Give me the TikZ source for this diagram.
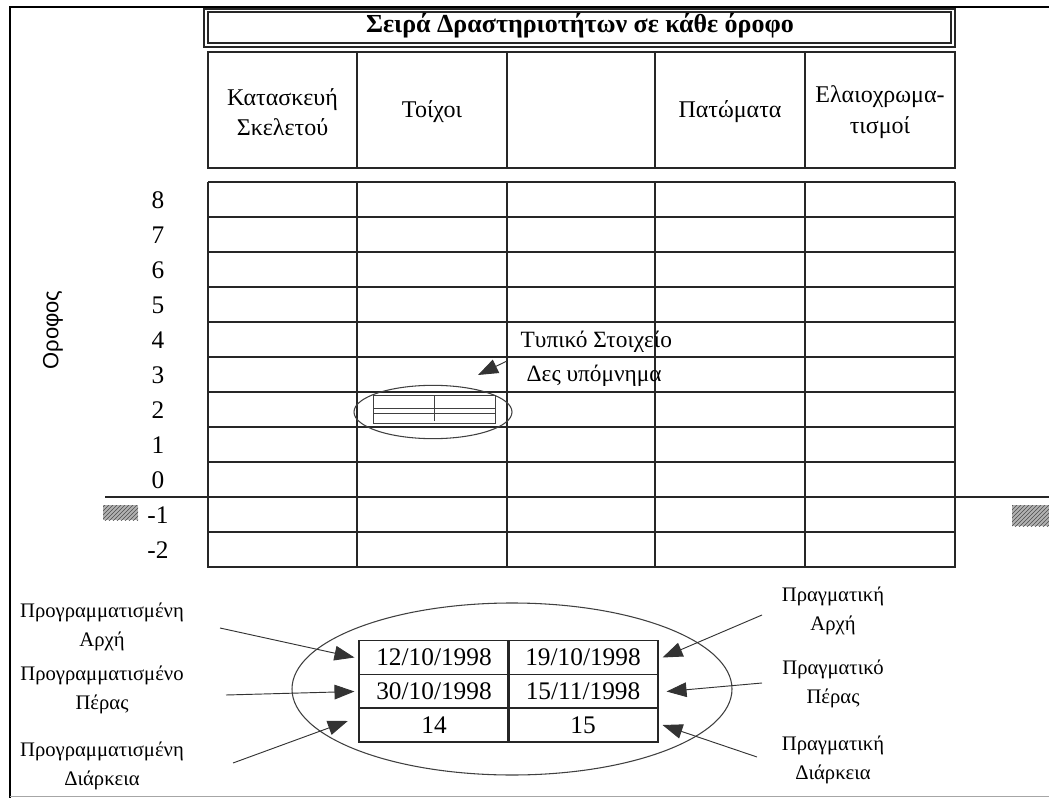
\documentclass[tikz,border=0pt]{standalone}
\usepackage{fontspec}
\setmainfont{Liberation Serif}
\newfontfamily\lsans{Liberation Sans}
\usetikzlibrary{arrows.meta,patterns,shapes.geometric}
\tikzset{
  thin line/.style={line width=0.8pt, black!85},
  thick line/.style={line width=2.2pt, black!85},
  ell/.style={draw=black!75, line width=0.8pt, ellipse, inner sep=0pt},
  big arrow/.style={line width=0.7pt, black!80, -{Triangle[length=15pt,width=11pt]}},
  cell/.style={draw=black!85, line width=0.8pt, minimum width=112.5pt, minimum height=25.5pt, inner sep=0pt, font=\fontsize{19}{21}\selectfont},
  hdr/.style={align=center, font=\fontsize{18}{23}\selectfont},
  num/.style={font=\fontsize{19}{21}\selectfont},
  lbl/.style={align=center, font=\fontsize{15.5}{22}\selectfont},
  hatch/.style={pattern=north east lines, pattern color=black!70}
}
\begin{document}
\begin{tikzpicture}[x=0.75pt,y=-0.75pt]
\useasboundingbox (0,0) rectangle (1049,798);
% outer frame
\draw[line width=1.2pt] (10,798) -- (10,7) -- (1049,7);
\draw[black!35, line width=0.6pt] (10,796) -- (1049,796);
% title box (double)
\draw[thin line] (204,9) rectangle (955,47);
\draw[thin line] (208,12) rectangle (951,43);
\node[font=\bfseries\fontsize{19.5}{22}\selectfont] (title) at (580,26) {Σειρά Δραστηριοτήτων σε κάθε όροφο};
% header cells
\foreach \a/\b in {208/357,357/507,507/655,655/805,805/955}
  \draw[thin line] (\a,52) rectangle (\b,168);
\node[hdr] (h1) at (282.5,112) {Κατασκευή\\Σκελετού};
\node[hdr] (h2) at (432,112) {Τοίχοι};
\node[hdr] (h4) at (730,112) {Πατώματα};
\node[hdr] (h5) at (880,112) {Ελαιοχρωμα-\\τισμοί};
% grid
\foreach \k in {0,...,11}
  \draw[thin line] (208,182+35*\k) -- (955,182+35*\k);
\foreach \x in {208,357,507,655,805,955}
  \draw[thin line] (\x,182) -- (\x,567);
% ground and basement
\draw[thick line] (105,497) -- (208,497) -- (208,567) -- (955,567) -- (955,497) -- (1049,497);
\fill[black!30] (103,505) rectangle (138,520);
\fill[hatch] (103,505) rectangle (138,520);
\fill[black!30] (1012,505) rectangle (1049,526);
\fill[hatch] (1012,505) rectangle (1049,526);
% floor numbers
\foreach \n [count=\i from 0] in {8,7,6,5,4,3,2,1,0,-1,-2}
  \node[num] (f\i) at (158,200+35*\i) {\n};
\node[rotate=90, font=\lsans\fontsize{16.5}{18}\selectfont] (oro) at (53,330) {Οροφος};
% typical element
\node[ell, minimum width=118.5pt, minimum height=40pt] (elem) at (433,412) {};
\draw[black!75, line width=0.7pt] (373,395) rectangle (495,423);
\draw[black!75, line width=0.7pt] (373,408) -- (495,408) (373,413) -- (495,413) (434,395) -- (434,421);
\coordinate (elemtail) at (507,361);
\coordinate (elemtip) at (478,375);
\draw[big arrow] (elemtail) -- (elemtip);
\node[anchor=west, font=\fontsize{17.5}{20}\selectfont] (t1) at (516,342) {Τυπικό Στοιχείο};
\node[anchor=west, font=\fontsize{17.5}{20}\selectfont] (t2) at (522,376) {Δες υπόμνημα};
% legend
\node[ell, minimum width=330pt, minimum height=129pt] (lell) at (512,689) {};
\node[cell] (c11) at (434,657.5) {12/10/1998};
\node[cell] (c12) at (583,657.5) {19/10/1998};
\node[cell] (c21) at (434,691.5) {30/10/1998};
\node[cell] (c22) at (583,691.5) {15/11/1998};
\node[cell] (c31) at (434,725) {14};
\node[cell] (c32) at (583,725) {15};
% labels
\node[lbl] (l1) at (102,627) {Προγραμματισμένη\\Αρχή};
\node[lbl] (l2) at (102,690) {Προγραμματισμένο\\Πέρας};
\node[lbl] (l3) at (102,766) {Προγραμματισμένη\\Διάρκεια};
\node[lbl] (r1) at (833,611) {Πραγματική\\Αρχή};
\node[lbl] (r2) at (833,684) {Πραγματικό\\Πέρας};
\node[lbl] (r3) at (833,760) {Πραγματική\\Διάρκεια};
% arrows
\coordinate (a1) at (220,628);
\coordinate (a2) at (226,695);
\coordinate (a3) at (233,763);
\coordinate (b1) at (762,615);
\coordinate (b2) at (762,683);
\coordinate (b3) at (757,757);
\draw[big arrow] (a1) -- ([xshift=-3pt]c11.west);
\draw[big arrow] (a2) -- ([xshift=-3pt]c21.west);
\draw[big arrow] (a3) -- ([xshift=-8pt,yshift=3pt]c31.west);
\draw[big arrow] (b1) -- ([xshift=3pt]c12.east);
\draw[big arrow] (b2) -- ([xshift=6pt]c22.east);
\draw[big arrow] (b3) -- ([xshift=3pt]c32.east);
\end{tikzpicture}
\end{document}
